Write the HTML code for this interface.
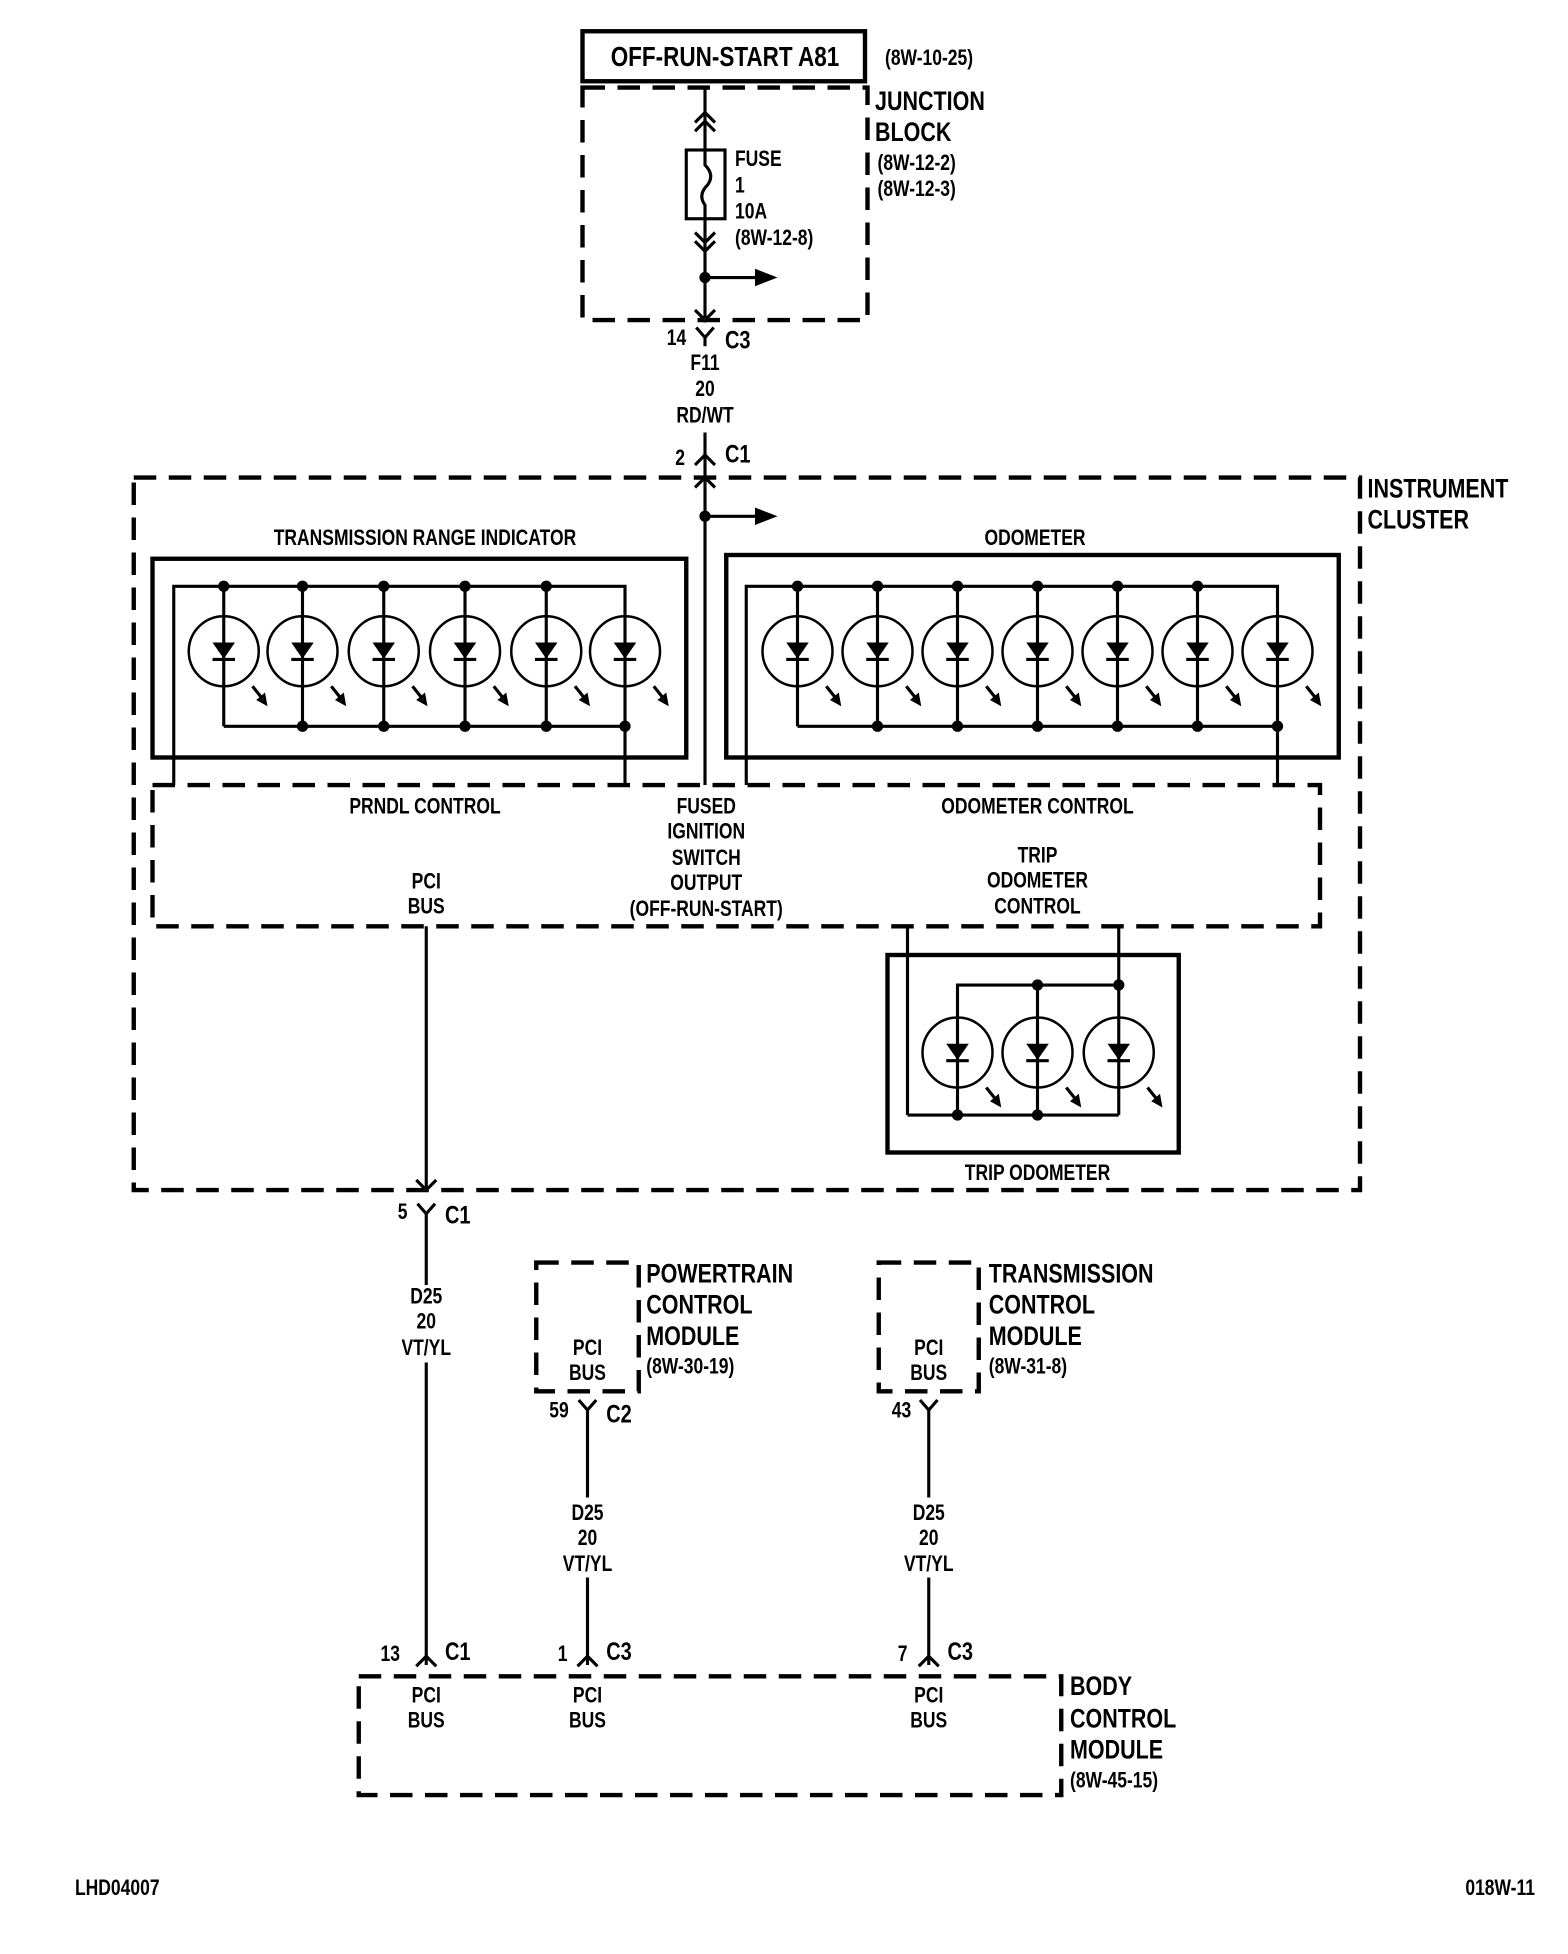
<!DOCTYPE html>
<html><head><meta charset="utf-8"><style>
html,body{margin:0;padding:0;background:#fff;}
svg{display:block;}
text{font-family:"Liberation Sans",sans-serif;font-weight:bold;fill:#000;transform-box:fill-box;transform:scaleX(0.8);transform-origin:left center;}
.m{font-size:17.5px;}
.l{font-size:21.5px;}
.c{text-anchor:middle;transform-origin:center center;}
.e{text-anchor:end;transform-origin:right center;}
</style></head><body>
<svg width="1568" height="1954" viewBox="0 0 1254.4 1563.2" xmlns="http://www.w3.org/2000/svg">
<defs>
<g id="led">
<circle cx="0" cy="0" r="28" fill="none" stroke="#000" stroke-width="2"/>
<polygon points="-9,-7 9,-7 0,6" fill="#000"/>
<line x1="-9" y1="6.5" x2="9" y2="6.5" stroke="#000" stroke-width="2.5"/>
<line x1="23" y1="28" x2="31" y2="38" stroke="#000" stroke-width="2.5"/>
<polygon points="35,44 26,39 33,33" fill="#000"/>
</g>
</defs>
<g stroke="#000" fill="none">
<rect x="466" y="25" width="226" height="40" stroke-width="3.5"/>
<rect x="466" y="70" width="228" height="186" stroke-width="3.5" stroke-dasharray="18,10"/>
<line x1="564" y1="70" x2="564" y2="258" stroke-width="2.5"/>
<polyline points="556,98 564,90 572,98" stroke-width="2.5"/>
<polyline points="556,105 564,97 572,105" stroke-width="2.5"/>
<rect x="549" y="120" width="31" height="55" fill="#fff" stroke-width="2.5"/>
<path d="M564,120 L564,132 Q572,140 566,148 Q558,156 564,164 L564,175" stroke-width="2.5"/>
<polyline points="556,186 564,194 572,186" stroke-width="2.5"/>
<polyline points="556,193 564,201 572,193" stroke-width="2.5"/>
<line x1="564" y1="222" x2="608" y2="222" stroke-width="2.5"/>
<polyline points="556,248 564,256 572,248" stroke-width="2.5"/>
<polyline points="557,262 564,270 571,262" stroke-width="2.5"/>
<line x1="564" y1="270" x2="564" y2="277" stroke-width="2.5"/>
<line x1="564" y1="346" x2="564" y2="628" stroke-width="2.5"/>
<polyline points="556,372 564,364 572,372" stroke-width="2.5"/>
<polyline points="556,390 564,382 572,390" stroke-width="2.5"/>
<line x1="564" y1="413" x2="608" y2="413" stroke-width="2.5"/>
<rect x="107" y="382" width="981" height="570" stroke-width="3.5" stroke-dasharray="18,10"/>
<rect x="122" y="447" width="427" height="159" stroke-width="3.5"/>
<polyline points="139,628 139,469 500,469 500,628" stroke-width="2.5"/>
<line x1="179" y1="581" x2="500" y2="581" stroke-width="2.5"/>
<rect x="581" y="444" width="490" height="162" stroke-width="3.5"/>
<polyline points="597,628 597,469 1022,469 1022,628" stroke-width="2.5"/>
<line x1="638" y1="581" x2="1022" y2="581" stroke-width="2.5"/>
<rect x="122" y="628" width="934" height="113" stroke-width="3.5" stroke-dasharray="18,10"/>
<line x1="726" y1="741" x2="726" y2="892" stroke-width="2.5"/>
<line x1="895" y1="741" x2="895" y2="892" stroke-width="2.5"/>
<rect x="710" y="764" width="233" height="158" stroke-width="3.5"/>
<polyline points="766,892 766,788 895,788" stroke-width="2.5"/>
<line x1="830" y1="788" x2="830" y2="892" stroke-width="2.5"/>
<line x1="726" y1="892" x2="895" y2="892" stroke-width="2.5"/>
<line x1="341" y1="741" x2="341" y2="952" stroke-width="2.5"/>
<polyline points="333,944 341,952 349,944" stroke-width="2.5"/>
<polyline points="334,963 341,971 348,963" stroke-width="2.5"/>
<line x1="341" y1="971" x2="341" y2="1028" stroke-width="2.5"/>
<line x1="341" y1="1090" x2="341" y2="1332" stroke-width="2.5"/>
<polyline points="333,1333 341,1325 349,1333" stroke-width="2.5"/>
<rect x="429" y="1010" width="82" height="103" stroke-width="3.5" stroke-dasharray="18,10"/>
<polyline points="463,1120 470,1128 477,1120" stroke-width="2.5"/>
<line x1="470" y1="1128" x2="470" y2="1198" stroke-width="2.5"/>
<line x1="470" y1="1262" x2="470" y2="1332" stroke-width="2.5"/>
<polyline points="462,1333 470,1325 478,1333" stroke-width="2.5"/>
<rect x="703" y="1010" width="80" height="103" stroke-width="3.5" stroke-dasharray="18,10"/>
<polyline points="736,1120 743,1128 750,1120" stroke-width="2.5"/>
<line x1="743" y1="1128" x2="743" y2="1198" stroke-width="2.5"/>
<line x1="743" y1="1262" x2="743" y2="1332" stroke-width="2.5"/>
<polyline points="735,1333 743,1325 751,1333" stroke-width="2.5"/>
<rect x="287" y="1341" width="562" height="95" stroke-width="3.5" stroke-dasharray="18,10"/>
</g>
<polygon points="604,215 622,222 604,229" fill="#000"/>
<polygon points="604,406 622,413 604,420" fill="#000"/>
<g fill="#000">
<circle cx="564" cy="222" r="4.5"/><circle cx="564" cy="413" r="4.5"/>
<circle cx="179" cy="469" r="4.5"/><circle cx="242" cy="469" r="4.5"/><circle cx="307" cy="469" r="4.5"/><circle cx="372" cy="469" r="4.5"/><circle cx="437" cy="469" r="4.5"/>
<circle cx="242" cy="581" r="4.5"/><circle cx="307" cy="581" r="4.5"/><circle cx="372" cy="581" r="4.5"/><circle cx="437" cy="581" r="4.5"/><circle cx="500" cy="581" r="4.5"/>
<circle cx="638" cy="469" r="4.5"/><circle cx="702" cy="469" r="4.5"/><circle cx="766" cy="469" r="4.5"/><circle cx="830" cy="469" r="4.5"/><circle cx="894" cy="469" r="4.5"/><circle cx="958" cy="469" r="4.5"/>
<circle cx="702" cy="581" r="4.5"/><circle cx="766" cy="581" r="4.5"/><circle cx="830" cy="581" r="4.5"/><circle cx="894" cy="581" r="4.5"/><circle cx="958" cy="581" r="4.5"/><circle cx="1022" cy="581" r="4.5"/>
<circle cx="830" cy="788" r="4.5"/><circle cx="895" cy="788" r="4.5"/>
<circle cx="766" cy="892" r="4.5"/><circle cx="830" cy="892" r="4.5"/>
</g>
<g stroke="#000" stroke-width="2.5">
<line x1="179" y1="469" x2="179" y2="581"/><line x1="242" y1="469" x2="242" y2="581"/><line x1="307" y1="469" x2="307" y2="581"/><line x1="372" y1="469" x2="372" y2="581"/><line x1="437" y1="469" x2="437" y2="581"/>
<line x1="638" y1="469" x2="638" y2="581"/><line x1="702" y1="469" x2="702" y2="581"/><line x1="766" y1="469" x2="766" y2="581"/><line x1="830" y1="469" x2="830" y2="581"/><line x1="894" y1="469" x2="894" y2="581"/><line x1="958" y1="469" x2="958" y2="581"/>
</g>
<use href="#led" x="179" y="521"/><use href="#led" x="242" y="521"/><use href="#led" x="307" y="521"/><use href="#led" x="372" y="521"/><use href="#led" x="437" y="521"/><use href="#led" x="500" y="521"/>
<use href="#led" x="638" y="521"/><use href="#led" x="702" y="521"/><use href="#led" x="766" y="521"/><use href="#led" x="830" y="521"/><use href="#led" x="894" y="521"/><use href="#led" x="958" y="521"/><use href="#led" x="1022" y="521"/>
<use href="#led" x="766" y="842"/><use href="#led" x="830" y="842"/><use href="#led" x="895" y="842"/>
<text x="580" y="53" class="c" style="font-size:22.5px">OFF-RUN-START A81</text>
<text x="708" y="52" class="m">(8W-10-25)</text>
<text x="700" y="88" class="l">JUNCTION</text>
<text x="700" y="113" class="l">BLOCK</text>
<text x="702" y="136" class="m">(8W-12-2)</text>
<text x="702" y="157" class="m">(8W-12-3)</text>
<text x="588" y="133" class="m">FUSE</text>
<text x="588" y="154" class="m">1</text>
<text x="588" y="175" class="m">10A</text>
<text x="588" y="196" class="m">(8W-12-8)</text>
<text x="549" y="276" class="m e">14</text>
<text x="580" y="279" style="font-size:20px">C3</text>
<text x="564" y="296" class="c m">F11</text>
<text x="564" y="317" class="c m">20</text>
<text x="564" y="338" class="c m">RD/WT</text>
<text x="548" y="372" class="m e">2</text>
<text x="580" y="370" style="font-size:20px">C1</text>
<text x="1094" y="398" class="l">INSTRUMENT</text>
<text x="1094" y="423" class="l">CLUSTER</text>
<text x="340" y="436" class="c m">TRANSMISSION RANGE INDICATOR</text>
<text x="828" y="436" class="c m">ODOMETER</text>
<text x="340" y="651" class="c m">PRNDL CONTROL</text>
<text x="830" y="651" class="c m">ODOMETER CONTROL</text>
<text x="565" y="651" class="c m">FUSED</text>
<text x="565" y="671" class="c m">IGNITION</text>
<text x="565" y="692" class="c m">SWITCH</text>
<text x="565" y="712" class="c m">OUTPUT</text>
<text x="565" y="733" class="c m">(OFF-RUN-START)</text>
<text x="830" y="690" class="c m">TRIP</text>
<text x="830" y="710" class="c m">ODOMETER</text>
<text x="830" y="731" class="c m">CONTROL</text>
<text x="341" y="711" class="c m">PCI</text>
<text x="341" y="731" class="c m">BUS</text>
<text x="830" y="944" class="c m">TRIP ODOMETER</text>
<text x="326" y="975" class="m e">5</text>
<text x="356" y="979" style="font-size:20px">C1</text>
<text x="341" y="1043" class="c m">D25</text>
<text x="341" y="1063" class="c m">20</text>
<text x="341" y="1084" class="c m">VT/YL</text>
<text x="517" y="1026" class="l">POWERTRAIN</text>
<text x="517" y="1051" class="l">CONTROL</text>
<text x="517" y="1076" class="l">MODULE</text>
<text x="517" y="1099" class="m">(8W-30-19)</text>
<text x="470" y="1084" class="c m">PCI</text>
<text x="470" y="1104" class="c m">BUS</text>
<text x="455" y="1134" class="m e">59</text>
<text x="485" y="1138" style="font-size:20px">C2</text>
<text x="470" y="1216" class="c m">D25</text>
<text x="470" y="1236" class="c m">20</text>
<text x="470" y="1257" class="c m">VT/YL</text>
<text x="791" y="1026" class="l">TRANSMISSION</text>
<text x="791" y="1051" class="l">CONTROL</text>
<text x="791" y="1076" class="l">MODULE</text>
<text x="791" y="1099" class="m">(8W-31-8)</text>
<text x="743" y="1084" class="c m">PCI</text>
<text x="743" y="1104" class="c m">BUS</text>
<text x="729" y="1134" class="m e">43</text>
<text x="743" y="1216" class="c m">D25</text>
<text x="743" y="1236" class="c m">20</text>
<text x="743" y="1257" class="c m">VT/YL</text>
<text x="320" y="1329" class="m e">13</text>
<text x="356" y="1328" style="font-size:20px">C1</text>
<text x="454" y="1329" class="m e">1</text>
<text x="485" y="1328" style="font-size:20px">C3</text>
<text x="726" y="1329" class="m e">7</text>
<text x="758" y="1328" style="font-size:20px">C3</text>
<text x="341" y="1362" class="c m">PCI</text>
<text x="341" y="1382" class="c m">BUS</text>
<text x="470" y="1362" class="c m">PCI</text>
<text x="470" y="1382" class="c m">BUS</text>
<text x="743" y="1362" class="c m">PCI</text>
<text x="743" y="1382" class="c m">BUS</text>
<text x="856" y="1356" class="l">BODY</text>
<text x="856" y="1382" class="l">CONTROL</text>
<text x="856" y="1407" class="l">MODULE</text>
<text x="856" y="1430" class="m">(8W-45-15)</text>
<text x="60" y="1516" class="m">LHD04007</text>
<text x="1228" y="1516" class="m e">018W-11</text>
</svg>
</body></html>
